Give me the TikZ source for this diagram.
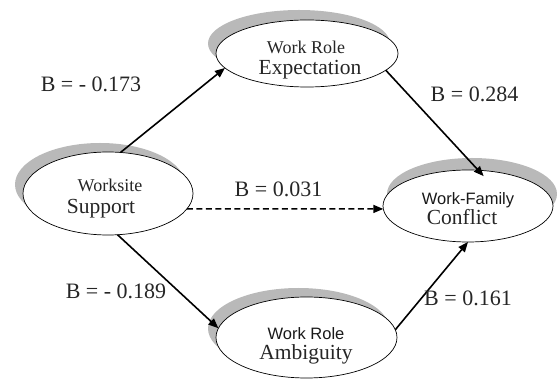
\documentclass[tikz,border=0pt]{standalone}
\usepackage{fontspec}
\setmainfont{Liberation Serif}
\setsansfont{Liberation Sans}
\usetikzlibrary{shapes.geometric,arrows.meta}
\begin{document}
\begin{tikzpicture}[x=1pt,y=1pt,
  ell/.style={ellipse, draw=black, line width=0.7pt, fill=white, inner sep=0pt, outer sep=0pt},
  shad/.style={ellipse, fill=gray!55, draw=none, inner sep=0pt, outer sep=0pt},
  arr/.style={line width=1.6pt, -{Triangle[length=10pt,width=8pt]}},
  dasharr/.style={arr, dash pattern=on 6pt off 3.5pt},
  lbl/.style={font=\fontsize{22}{24}\selectfont, text=black!85, anchor=base, inner sep=0pt},
  bigtxt/.style={font=\fontsize{21.5}{22}\selectfont, text=black!85, anchor=base, inner sep=0pt},
  smallserif/.style={font=\fontsize{18}{20}\selectfont, text=black!85, anchor=base, inner sep=0pt},
  smallsans/.style={font=\sffamily\fontsize{16.5}{18}\selectfont, text=black!90, anchor=base, inner sep=0pt}]
\useasboundingbox (0,0) rectangle (557,380);

% shadows
\node[shad, minimum width=170pt, minimum height=83pt] (supS) at (100,195.5) {};
\node[shad, minimum width=182pt, minimum height=67pt] (expS) at (299,336.5) {};
\node[shad, minimum width=181pt, minimum height=81pt] (ambS) at (298.5,51.5) {};
\node[shad, minimum width=170pt, minimum height=72pt] (confS) at (472,186) {};

% ellipses
\node[ell, minimum width=170pt, minimum height=83pt] (sup) at (108,186.5) {};
\node[ell, minimum width=182pt, minimum height=67pt] (exp) at (307,326.5) {};
\node[ell, minimum width=181pt, minimum height=81pt] (amb) at (306.5,42.5) {};
\node[ell, minimum width=170pt, minimum height=72pt] (conf) at (468,174) {};

% texts
\node[smallserif] (supA) at (110,188) {Worksite};
\node[bigtxt] (supB) at (101,166.5) {Support};
\node[smallserif] (expA) at (306,326) {Work Role};
\node[bigtxt] (expB) at (310,305) {Expectation};
\node[smallsans] (ambA) at (306,40) {Work Role};
\node[bigtxt] (ambB) at (306,20) {Ambiguity};
\node[smallsans] (confA) at (468,175) {Work-Family};
\node[bigtxt] (confB) at (462,155) {Conflict};

% connectors
\draw[arr] (sup.73.9) -- (exp.190.4);
\draw[arr, shorten >=-8pt] (exp.-12.2) -- (conf.74.4);
\draw[dasharr] (sup.-11.4) -- (conf.182);
\draw[arr] (sup.-77) -- (amb.174);
\draw[arr] (amb.5.5) -- (conf.270);

% labels
\node[lbl] (l1) at (91,288) {B = - 0.173};
\node[lbl] (l2) at (474.5,278) {B = 0.284};
\node[lbl] (l3) at (278.5,183) {B = 0.031};
\node[lbl] (l4) at (116,81) {B = - 0.189};
\node[lbl] (l5) at (468,74) {B = 0.161};
\end{tikzpicture}
\end{document}
